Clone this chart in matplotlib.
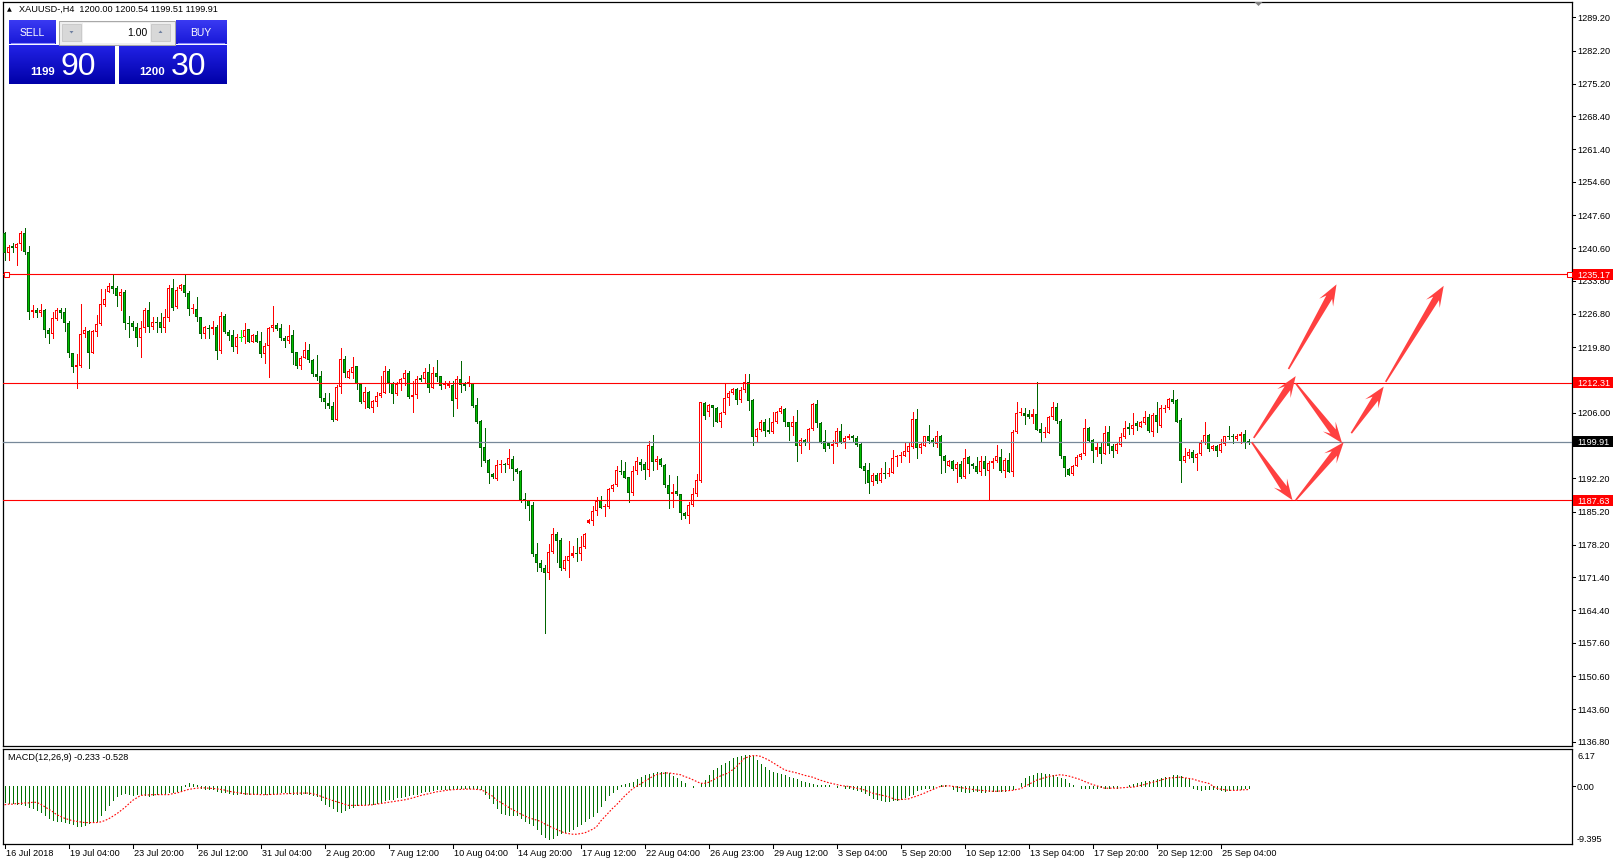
import numpy as np
import matplotlib
matplotlib.use("Agg")
import matplotlib.pyplot as plt
from matplotlib.patches import Rectangle, Polygon
from matplotlib.colors import LinearSegmentedColormap

W, H, DPI = 1613, 865, 100

# ---------------- data ----------------
opens = [
    1243.75, 1239.54, 1241.1, 1240.6, 1241.4, 1243.75, 1239.75, 1227.27, 1227.6, 1227.06,
    1227.6, 1223.4, 1222.5, 1225.7, 1227.6, 1227.1, 1224.8, 1218.5, 1215.56, 1215.84,
    1222.5, 1223.2, 1218.65, 1223.06, 1224.6, 1228.7, 1231.5, 1232.7, 1232.2, 1230.6,
    1231.3, 1224.96, 1224.96, 1224.0, 1221.7, 1223.9, 1227.6, 1224.1, 1225.1, 1225.0,
    1223.9, 1225.9, 1232.2, 1228.3, 1231.97, 1232.9, 1231.1, 1227.76, 1227.76, 1226.1,
    1222.5, 1223.9, 1223.56, 1224.0, 1219.07, 1226.36, 1223.0, 1222.36, 1219.9, 1222.0,
    1221.9, 1223.6, 1220.96, 1222.36, 1221.1, 1218.4, 1220.05, 1223.76, 1224.5, 1223.76,
    1221.8, 1221.1, 1222.3, 1218.7, 1215.9, 1217.6, 1219.3, 1217.2, 1214.1, 1213.7,
    1209.0, 1208.0, 1207.5, 1204.5, 1211.5, 1217.4, 1213.4, 1214.4, 1215.8, 1212.0,
    1208.3, 1210.4, 1207.1, 1208.3, 1209.5, 1210.2, 1214.8, 1212.2, 1209.9, 1212.0,
    1213.0, 1214.4, 1209.4, 1209.7, 1213.4, 1213.2, 1214.6, 1211.3, 1214.3, 1213.7,
    1211.8, 1211.7, 1211.8, 1208.8, 1213.2, 1212.0, 1212.0, 1212.2, 1207.6, 1204.3,
    1198.8, 1196.1, 1193.1, 1192.1, 1194.9, 1195.3, 1194.9, 1196.3, 1194.2, 1193.7,
    1187.8, 1187.6, 1186.6, 1176.2, 1174.3, 1173.4, 1172.3, 1176.6, 1180.4, 1179.2,
    1173.2, 1174.9, 1175.9, 1176.4, 1176.2, 1177.7, 1182.9, 1183.2, 1185.4, 1187.6,
    1186.2, 1186.2, 1189.9, 1190.9, 1193.8, 1193.8, 1192.4, 1189.2, 1193.7, 1195.7,
    1195.2, 1194.0, 1199.1, 1195.6, 1196.3, 1195.0, 1190.9, 1188.8, 1189.5, 1188.9,
    1184.9, 1184.3, 1186.6, 1188.9, 1191.6, 1208.1, 1206.2, 1207.6, 1207.1, 1204.1,
    1205.9, 1209.2, 1210.1, 1211.0, 1208.7, 1210.8, 1212.4, 1208.7, 1200.8, 1202.4,
    1204.0, 1202.4, 1202.0, 1204.0, 1206.1, 1206.8, 1204.0, 1203.1, 1204.0, 1198.9,
    1200.3, 1199.6, 1202.6, 1207.8, 1203.8, 1200.1, 1199.7, 1198.9, 1199.4, 1202.2,
    1199.8, 1200.6, 1201.0, 1200.6, 1199.4, 1194.8, 1193.9, 1191.5, 1192.9, 1191.6,
    1193.4, 1193.1, 1193.4, 1196.6, 1196.8, 1196.9, 1197.8, 1198.7, 1204.7, 1198.6,
    1199.1, 1201.0, 1200.3, 1199.4, 1201.1, 1196.9, 1194.8, 1195.9, 1194.1, 1195.2,
    1192.4, 1196.6, 1195.2, 1194.8, 1193.6, 1195.9, 1193.8, 1195.4, 1195.9, 1196.6,
    1193.8, 1196.1, 1193.6, 1202.0, 1205.9, 1205.9, 1205.7, 1205.2, 1205.7, 1202.6,
    1201.7, 1201.8, 1205.0, 1207.3, 1204.3, 1196.8, 1194.1, 1193.1, 1194.8, 1196.6,
    1197.3, 1202.7, 1200.3, 1198.2, 1198.7, 1197.3, 1201.9, 1199.0, 1198.0, 1199.2,
    1200.8, 1202.9, 1202.5, 1203.8, 1203.1, 1203.8, 1205.0, 1202.0, 1205.5, 1203.3,
    1206.8, 1206.9, 1208.9, 1208.7, 1204.5, 1195.9, 1196.8, 1197.7, 1196.5, 1197.3,
    1199.6, 1201.3, 1198.3, 1199.1, 1198.0, 1199.4, 1201.1, 1201.0, 1200.4, 1201.0,
    1201.5, 1200.00,
]
highs = [
    1244.1, 1241.3, 1241.65, 1241.65, 1244.3, 1244.8, 1241.1, 1228.7, 1227.97, 1228.8,
    1227.75, 1223.76, 1227.27, 1228.1, 1227.97, 1228.1, 1225.3, 1218.65, 1218.36, 1228.8,
    1224.0, 1223.4, 1223.4, 1226.6, 1232.0, 1232.0, 1233.2, 1235.1, 1232.7, 1231.97,
    1231.8, 1226.35, 1225.3, 1224.8, 1225.3, 1227.97, 1229.4, 1226.1, 1226.1, 1227.06,
    1227.8, 1232.9, 1234.2, 1232.4, 1233.1, 1235.1, 1231.6, 1228.8, 1230.3, 1226.2,
    1224.3, 1224.5, 1225.3, 1224.5, 1227.27, 1226.8, 1223.4, 1223.4, 1222.5, 1223.4,
    1224.96, 1223.6, 1222.6, 1223.3, 1223.06, 1220.6, 1224.1, 1228.5, 1224.8, 1224.6,
    1222.1, 1224.5, 1223.4, 1218.8, 1217.9, 1220.8, 1220.5, 1217.4, 1218.1, 1214.8,
    1210.1, 1210.1, 1208.3, 1211.8, 1219.7, 1217.9, 1215.2, 1217.7, 1215.9, 1212.3,
    1211.5, 1210.6, 1208.7, 1210.4, 1213.7, 1215.9, 1215.3, 1212.5, 1212.5, 1213.4,
    1215.0, 1214.8, 1212.7, 1213.7, 1213.9, 1215.5, 1216.25, 1215.7, 1217.1, 1213.8,
    1212.7, 1212.7, 1212.7, 1213.7, 1216.9, 1212.5, 1213.7, 1212.3, 1209.2, 1204.4,
    1202.7, 1196.2, 1193.4, 1196.1, 1196.1, 1195.5, 1198.4, 1196.8, 1194.4, 1193.9,
    1189.2, 1187.7, 1187.3, 1178.5, 1175.0, 1174.0, 1178.4, 1181.7, 1181.0, 1179.6,
    1175.9, 1179.0, 1178.0, 1179.6, 1180.1, 1180.8, 1183.6, 1186.4, 1188.3, 1188.5,
    1186.9, 1190.1, 1191.1, 1194.7, 1196.1, 1195.6, 1192.5, 1194.7, 1196.6, 1196.2,
    1195.6, 1200.1, 1201.3, 1196.8, 1196.4, 1195.2, 1192.9, 1191.0, 1192.7, 1189.0,
    1185.2, 1187.3, 1190.1, 1193.1, 1208.2, 1208.3, 1207.8, 1207.6, 1207.3, 1206.1,
    1212.2, 1210.6, 1211.3, 1211.3, 1211.5, 1214.2, 1214.2, 1208.8, 1202.7, 1204.5,
    1204.7, 1204.8, 1206.2, 1206.4, 1207.4, 1207.1, 1204.1, 1205.3, 1206.6, 1200.6,
    1200.5, 1202.7, 1208.0, 1208.7, 1204.1, 1202.4, 1199.9, 1200.3, 1202.7, 1203.6,
    1201.1, 1201.5, 1201.3, 1201.1, 1199.6, 1195.4, 1195.4, 1193.3, 1193.3, 1194.3,
    1195.6, 1194.3, 1198.2, 1197.1, 1197.8, 1199.8, 1199.8, 1206.2, 1206.8, 1199.8,
    1201.2, 1203.4, 1200.6, 1202.2, 1201.3, 1197.1, 1196.1, 1196.1, 1195.6, 1195.9,
    1198.4, 1196.8, 1195.4, 1196.6, 1196.9, 1196.8, 1195.9, 1196.4, 1199.2, 1198.3,
    1196.4, 1197.6, 1202.4, 1208.2, 1206.9, 1207.1, 1206.6, 1206.8, 1212.4, 1203.8,
    1203.1, 1205.3, 1208.3, 1208.0, 1204.6, 1196.9, 1194.3, 1195.0, 1197.1, 1197.5,
    1204.6, 1203.1, 1200.4, 1199.9, 1199.7, 1203.2, 1203.2, 1199.4, 1199.6, 1201.8,
    1204.3, 1203.8, 1206.0, 1204.3, 1204.3, 1206.4, 1205.7, 1205.9, 1208.3, 1207.6,
    1207.6, 1209.2, 1210.8, 1208.8, 1204.8, 1198.5, 1198.3, 1198.2, 1197.5, 1200.3,
    1204.1, 1201.5, 1199.2, 1199.2, 1200.4, 1201.1, 1203.2, 1201.5, 1201.5, 1202.0,
    1202.4, 1200.54,
]
lows = [
    1238.1, 1238.1, 1239.9, 1237.1, 1240.25, 1239.5, 1225.66, 1226.2, 1226.2, 1226.35,
    1222.0, 1220.75, 1221.8, 1225.5, 1225.87, 1223.3, 1217.8, 1214.65, 1211.3, 1215.7,
    1222.0, 1215.35, 1218.5, 1222.15, 1224.5, 1228.5, 1231.3, 1231.1, 1228.5, 1227.6,
    1223.6, 1222.0, 1223.4, 1220.1, 1217.8, 1222.9, 1222.9, 1223.6, 1223.06, 1223.06,
    1223.06, 1225.2, 1227.6, 1228.1, 1231.8, 1230.6, 1226.6, 1226.9, 1225.4, 1221.8,
    1221.8, 1221.8, 1222.5, 1217.25, 1218.5, 1222.7, 1221.3, 1218.9, 1218.65, 1221.0,
    1220.75, 1220.96, 1220.8, 1220.8, 1217.8, 1216.4, 1213.6, 1223.3, 1223.4, 1221.3,
    1219.8, 1220.6, 1216.3, 1215.5, 1215.2, 1217.5, 1216.7, 1213.7, 1212.9, 1208.5,
    1206.9, 1206.9, 1204.3, 1204.4, 1210.1, 1213.6, 1213.4, 1213.4, 1210.9, 1208.0,
    1207.1, 1207.1, 1206.1, 1207.5, 1209.4, 1210.1, 1210.4, 1208.0, 1209.7, 1210.8,
    1211.9, 1209.2, 1206.2, 1209.0, 1212.7, 1212.2, 1210.4, 1211.1, 1212.7, 1211.0,
    1211.1, 1211.5, 1205.3, 1207.1, 1210.4, 1210.8, 1211.7, 1207.3, 1203.9, 1194.7,
    1195.7, 1191.3, 1192.2, 1191.8, 1193.6, 1193.6, 1194.3, 1191.8, 1193.3, 1187.3,
    1186.0, 1183.4, 1175.9, 1172.8, 1172.8, 1159.7, 1171.0, 1176.4, 1174.5, 1172.9,
    1172.9, 1171.5, 1175.7, 1174.7, 1175.0, 1177.5, 1182.7, 1182.4, 1184.5, 1185.9,
    1184.3, 1185.9, 1189.5, 1190.6, 1193.2, 1192.3, 1187.3, 1188.7, 1193.2, 1193.9,
    1192.1, 1192.7, 1193.9, 1194.1, 1194.7, 1190.4, 1185.9, 1186.2, 1188.7, 1183.6,
    1183.8, 1182.9, 1186.4, 1188.5, 1191.5, 1204.7, 1205.3, 1203.3, 1204.0, 1202.9,
    1205.7, 1207.6, 1209.9, 1207.8, 1208.2, 1210.3, 1206.6, 1199.3, 1199.8, 1202.2,
    1201.0, 1201.7, 1201.8, 1203.8, 1205.9, 1203.3, 1200.3, 1201.3, 1195.9, 1197.5,
    1199.2, 1198.4, 1202.4, 1203.1, 1199.6, 1198.0, 1198.5, 1195.4, 1199.1, 1199.6,
    1198.5, 1200.5, 1199.8, 1198.9, 1194.3, 1191.3, 1189.2, 1190.9, 1191.3, 1191.5,
    1192.3, 1192.6, 1193.3, 1194.8, 1195.7, 1196.8, 1195.6, 1198.5, 1196.4, 1197.5,
    1198.9, 1199.6, 1198.9, 1198.7, 1193.3, 1193.5, 1194.7, 1194.0, 1191.4, 1192.2,
    1192.2, 1193.3, 1194.4, 1193.3, 1192.9, 1193.0, 1187.63, 1194.3, 1195.7, 1193.6,
    1192.4, 1193.5, 1192.6, 1201.8, 1205.5, 1203.6, 1204.8, 1203.8, 1202.4, 1199.9,
    1200.8, 1201.7, 1204.6, 1203.9, 1196.4, 1192.6, 1192.8, 1192.9, 1194.7, 1196.2,
    1197.1, 1199.9, 1195.7, 1196.8, 1195.5, 1197.3, 1197.6, 1196.6, 1197.5, 1199.0,
    1200.6, 1201.5, 1201.5, 1202.4, 1202.9, 1203.6, 1202.0, 1201.1, 1202.0, 1203.1,
    1206.2, 1206.7, 1208.0, 1204.0, 1191.5, 1195.7, 1196.5, 1195.7, 1193.9, 1197.1,
    1199.4, 1198.0, 1198.2, 1196.8, 1197.8, 1199.2, 1200.4, 1199.7, 1200.3, 1199.6,
    1198.5, 1199.51,
]
closes = [
    1239.54, 1240.95, 1240.6, 1241.4, 1243.75, 1239.9, 1227.27, 1227.6, 1226.9, 1227.6,
    1223.4, 1222.5, 1225.87, 1227.7, 1227.06, 1224.8, 1218.5, 1215.7, 1216.05, 1222.57,
    1223.4, 1218.65, 1223.2, 1224.6, 1228.8, 1229.9, 1232.7, 1232.0, 1230.6, 1231.3,
    1224.8, 1224.7, 1223.97, 1221.7, 1223.9, 1227.6, 1224.1, 1225.0, 1224.96, 1223.9,
    1226.1, 1232.2, 1228.1, 1231.8, 1232.9, 1231.1, 1227.76, 1227.9, 1226.1, 1222.5,
    1224.0, 1223.66, 1224.1, 1219.07, 1226.36, 1222.9, 1222.2, 1219.9, 1222.0, 1222.0,
    1223.4, 1220.96, 1222.36, 1220.96, 1218.4, 1220.05, 1223.9, 1224.5, 1223.6, 1221.7,
    1221.1, 1222.15, 1218.65, 1215.9, 1217.6, 1219.3, 1217.2, 1214.1, 1213.6, 1209.0,
    1208.2, 1207.5, 1204.5, 1211.5, 1217.4, 1214.4, 1214.8, 1215.7, 1212.0, 1208.3,
    1210.4, 1207.1, 1208.5, 1209.5, 1210.2, 1214.8, 1212.2, 1209.9, 1212.0, 1213.0,
    1214.3, 1209.4, 1209.7, 1213.2, 1212.9, 1214.6, 1211.3, 1214.4, 1213.6, 1211.7,
    1212.2, 1212.0, 1208.5, 1213.2, 1211.8, 1211.7, 1212.4, 1207.5, 1204.1, 1198.5,
    1195.9, 1193.3, 1192.5, 1194.9, 1195.2, 1194.9, 1196.4, 1194.1, 1193.6, 1187.6,
    1187.4, 1186.4, 1176.2, 1174.3, 1173.4, 1172.3, 1176.6, 1180.4, 1179.1, 1173.3,
    1175.0, 1175.9, 1176.4, 1176.2, 1177.7, 1180.5, 1183.4, 1185.4, 1187.5, 1186.0,
    1186.4, 1189.9, 1190.9, 1193.9, 1193.5, 1192.3, 1189.2, 1193.7, 1195.8, 1195.1,
    1194.0, 1199.2, 1195.6, 1196.3, 1195.0, 1190.9, 1188.8, 1189.4, 1188.9, 1185.0,
    1184.3, 1186.6, 1188.9, 1191.8, 1208.2, 1205.4, 1207.6, 1206.9, 1204.1, 1205.9,
    1209.2, 1210.1, 1211.0, 1208.7, 1210.8, 1212.4, 1208.5, 1200.8, 1202.6, 1204.0,
    1202.2, 1202.0, 1204.0, 1206.1, 1206.9, 1204.0, 1203.1, 1204.0, 1198.9, 1200.3,
    1199.6, 1202.6, 1207.8, 1203.8, 1199.9, 1198.3, 1198.9, 1199.4, 1202.2, 1199.8,
    1200.6, 1201.2, 1200.6, 1199.2, 1194.4, 1193.8, 1191.3, 1192.9, 1191.6, 1193.3,
    1193.1, 1193.4, 1196.4, 1197.0, 1197.0, 1197.9, 1198.9, 1204.7, 1198.6, 1199.4,
    1201.0, 1200.1, 1199.6, 1201.1, 1196.8, 1195.9, 1195.9, 1194.1, 1195.2, 1192.4,
    1196.4, 1195.2, 1194.7, 1193.6, 1195.9, 1194.1, 1195.5, 1195.85, 1196.8, 1193.8,
    1196.1, 1193.6, 1202.0, 1205.9, 1206.0, 1205.4, 1205.2, 1205.7, 1202.4, 1201.7,
    1202.0, 1205.0, 1207.3, 1204.3, 1196.8, 1194.3, 1193.0, 1194.8, 1196.6, 1197.3,
    1202.7, 1200.1, 1198.0, 1198.7, 1197.3, 1201.8, 1198.9, 1198.0, 1199.4, 1200.8,
    1202.7, 1202.5, 1203.4, 1203.2, 1204.0, 1205.0, 1202.2, 1205.5, 1204.0, 1206.9,
    1207.1, 1208.8, 1208.3, 1204.1, 1195.9, 1196.9, 1197.8, 1196.5, 1197.3, 1199.7,
    1201.3, 1198.3, 1199.1, 1198.0, 1199.4, 1201.0, 1200.8, 1200.8, 1201.0, 1201.5,
    1199.7, 1199.91,
]

# MACD(12,26,9): main line (histogram) and signal line, one value per bar
macd_main = [
    -2.6, -2.7, -2.7, -2.8, -2.8, -3.0, -3.3, -3.6, -3.9, -4.1, -4.6, -5.1, -5.5, -5.6, -5.7, -5.8,
    -6.0, -6.2, -6.4, -6.5, -6.3, -6.0, -5.8, -5.6, -4.6, -3.8, -3.0, -2.2, -1.6, -1.3, -1.1, -1.3,
    -1.4, -1.3, -1.2, -1.4, -1.5, -1.4, -1.3, -1.2, -1.1, -1.0, -0.9, -0.7, -0.6, 0.3, 0.5, 0.4,
    0.2, -0.3, -0.4, -0.5, -0.5, -0.7, -0.9, -1.0, -1.1, -1.2, -1.2, -1.1, -1.2, -1.3, -1.3, -1.2,
    -1.1, -1.2, -1.3, -1.2, -1.1, -1.0, -1.0, -1.1, -1.2, -1.3, -1.2, -1.1, -1.2, -1.4, -1.6, -2.2,
    -2.8, -3.2, -3.6, -4.0, -4.1, -3.8, -3.5, -3.3, -3.1, -3.0, -2.9, -2.8, -2.8, -2.7, -2.5, -2.3,
    -2.1, -2.0, -1.8, -1.7, -1.5, -1.4, -1.3, -1.2, -1.0, -0.8, -0.7, -0.6, -0.5, -0.5, -0.4, -0.4,
    -0.3, -0.3, -0.3, -0.2, -0.2, -0.3, -0.3, -0.5, -1.2, -1.9, -2.7, -3.6, -4.3, -4.5, -4.6, -4.7,
    -4.7, -5.2, -5.6, -5.9, -6.3, -7.0, -7.8, -8.3, -8.5, -8.4, -8.0, -7.6, -7.4, -7.2, -7.0, -6.5,
    -6.1, -5.6, -5.2, -4.8, -4.2, -3.2, -2.2, -1.4, -0.9, -0.5, 0.2, 0.4, 0.5, 0.7, 1.2, 1.5,
    1.8, 2.0, 2.2, 2.3, 2.4, 2.3, 2.2, 1.7, 1.3, 0.9, 0.6, 0.1, -0.1, 0.0, 0.6, 1.1,
    1.8, 2.6, 3.0, 3.4, 3.8, 4.2, 4.6, 4.8, 5.0, 5.1, 5.1, 4.9, 4.3, 3.7, 3.1, 2.6,
    2.4, 2.2, 2.0, 1.8, 1.6, 1.4, 1.2, 0.9, 0.7, 0.5, 0.4, 0.3, 0.3, 0.2, 0.2, 0.0,
    -0.1, 0.0, -0.2, -0.3, -0.4, -0.6, -0.8, -1.1, -1.4, -1.9, -2.1, -2.3, -2.4, -2.4, -2.3, -2.2,
    -2.0, -1.7, -1.4, -1.2, -0.6, -0.4, -0.3, -0.3, -0.2, 0.1, 0.2, 0.2, 0.1, -0.5, -0.7, -0.8,
    -0.9, -0.9, -0.8, -0.8, -0.9, -0.9, -0.8, -0.7, -0.8, -0.8, -0.7, -0.6, -0.4, 0.1, 0.6, 1.3,
    1.7, 1.9, 2.1, 2.2, 2.0, 2.0, 1.9, 1.6, 1.4, 1.2, 0.6, 0.2, 0.0, -0.2, -0.3, -0.3,
    -0.2, -0.2, -0.1, -0.2, -0.2, -0.1, -0.2, 0.0, 0.1, 0.2, 0.4, 0.5, 0.7, 0.8, 0.9, 1.1,
    1.2, 1.4, 1.5, 1.6, 1.8, 1.9, 1.7, 1.4, 1.2, -0.3, -0.5, -0.6, -0.5, -0.5, -0.4, -0.5,
    -0.6, -0.7, -0.6, -0.5, -0.4, -0.4, -0.3, -0.233,
]
macd_signal = [
    -3.0, -2.9, -2.9, -2.8, -2.8, -2.7, -2.7, -2.6, -2.6, -2.9, -3.3, -3.7, -4.1, -4.6, -4.9, -5.2,
    -5.4, -5.6, -5.7, -5.8, -5.9, -5.9, -5.9, -5.9, -5.8, -5.6, -5.3, -4.9, -4.5, -4.0, -3.5, -2.9,
    -2.3, -1.9, -1.5, -1.4, -1.4, -1.35, -1.35, -1.35, -1.35, -1.35, -1.2, -1.1, -0.9, -0.7, -0.5, -0.4,
    -0.3, -0.25, -0.25, -0.3, -0.35, -0.4, -0.5, -0.6, -0.8, -0.9, -1.0, -1.1, -1.2, -1.25, -1.3, -1.3,
    -1.35, -1.35, -1.35, -1.3, -1.3, -1.25, -1.2, -1.2, -1.15, -1.1, -1.1, -1.1, -1.1, -1.2, -1.35, -1.6,
    -1.85, -2.05, -2.3, -2.5, -2.7, -2.9, -3.1, -3.1, -3.1, -3.1, -3.1, -3.05, -3.0, -2.9, -2.8, -2.7,
    -2.6, -2.5, -2.4, -2.3, -2.2, -2.05, -1.9, -1.7, -1.5, -1.35, -1.2, -1.05, -0.9, -0.8, -0.7, -0.6,
    -0.55, -0.5, -0.5, -0.45, -0.45, -0.45, -0.5, -0.55, -0.8, -1.2, -1.6, -2.2, -2.6, -3.0, -3.4, -3.8,
    -4.1, -4.5, -4.8, -5.1, -5.3, -5.5, -5.7, -6.1, -6.4, -6.75, -7.0, -7.3, -7.6, -7.7, -7.8, -7.8,
    -7.7, -7.6, -7.3, -7.0, -6.6, -5.7, -5.0, -4.3, -3.6, -3.0, -2.3, -1.6, -1.0, -0.4, 0.0, 0.4,
    0.8, 1.2, 1.6, 1.9, 2.05, 2.15, 2.2, 2.1, 2.0, 1.9, 1.6, 1.4, 1.1, 0.8, 0.5, 0.5,
    0.65, 1.0, 1.35, 1.7, 1.95, 2.2, 2.7, 3.2, 3.9, 4.6, 4.8, 5.0, 5.0, 4.9, 4.6, 4.3,
    3.9, 3.5, 3.1, 2.7, 2.5, 2.35, 2.2, 2.0, 1.8, 1.65, 1.5, 1.25, 1.0, 0.8, 0.6, 0.45,
    0.3, 0.15, 0.05, 0.0, -0.15, -0.3, -0.4, -0.6, -0.85, -1.1, -1.25, -1.4, -1.55, -1.7, -1.95, -2.2,
    -2.15, -2.1, -2.05, -1.8, -1.6, -1.35, -1.1, -0.8, -0.55, -0.25, 0.0, 0.05, 0.1, 0.0, -0.1, -0.2,
    -0.3, -0.4, -0.5, -0.6, -0.65, -0.7, -0.75, -0.8, -0.8, -0.75, -0.7, -0.7, -0.65, -0.5, -0.4, -0.05,
    0.3, 0.65, 1.0, 1.2, 1.4, 1.6, 1.7, 1.8, 1.9, 1.8, 1.7, 1.5, 1.3, 1.1, 0.8, 0.55,
    0.3, 0.1, -0.1, -0.3, -0.3, -0.3, -0.3, -0.25, -0.2, -0.15, -0.15, 0.0, 0.15, 0.3, 0.5, 0.65,
    0.8, 1.0, 1.2, 1.35, 1.4, 1.45, 1.5, 1.4, 1.3, 1.2, 1.0, 0.8, 0.65, 0.5, 0.1, -0.3,
    -0.45, -0.55, -0.65, -0.65, -0.65, -0.6, -0.55, -0.528,
]

date_labels = ["16 Jul 2018", "19 Jul 04:00", "23 Jul 20:00", "26 Jul 12:00", "31 Jul 04:00",
               "2 Aug 20:00", "7 Aug 12:00", "10 Aug 04:00", "14 Aug 20:00", "17 Aug 12:00",
               "22 Aug 04:00", "26 Aug 23:00", "29 Aug 12:00", "3 Sep 04:00", "5 Sep 20:00",
               "10 Sep 12:00", "13 Sep 04:00", "17 Sep 20:00", "20 Sep 12:00", "25 Sep 04:00"]
bars_per_label = 16

price_ticks = [1289.20, 1282.20, 1275.20, 1268.40, 1261.40, 1254.60, 1247.60, 1240.60,
               1233.80, 1226.80, 1219.80, 1206.00, 1192.20, 1185.20,
               1178.20, 1171.40, 1164.40, 1157.60, 1150.60, 1143.60, 1136.80]
red_levels = [1235.17, 1212.31, 1187.63]
bid_price = 1199.91
price_range = (1135.88, 1292.42)
macd_range = (-9.395, 6.17)
macd_now = (-0.233, -0.528)

symbol = "XAUUSD-,H4"
last_ohlc = [1200.00, 1200.54, 1199.51, 1199.91]
sell_big, sell_small = "90", "1199"
buy_big, buy_small = "30", "1200"
lot_size = "1.00"

# hand-drawn arrows (bar index, price): tail -> head
arrow_tails = [(312.3, 1200.7), (311.8, 1199.8), (321.0, 1215.2), (322.8, 1212.2),
               (322.8, 1187.6), (336.7, 1201.7), (345.3, 1212.5)]
arrow_heads = [(322.8, 1213.7), (322.0, 1187.6), (333.0, 1233.0), (334.4, 1199.6),
               (334.8, 1199.8), (344.8, 1211.5), (359.8, 1232.7)]

# ---------------- figure ----------------
plt.rcParams['font.family'] = ['Liberation Sans', 'DejaVu Sans']
fig = plt.figure(figsize=(W / DPI, H / DPI), dpi=DPI, facecolor='white')


def rect_px(x0, y0, x1, y1):
    return [x0 / W, 1 - y1 / H, (x1 - x0) / W, (y1 - y0) / H]


ax = fig.add_axes(rect_px(3, 2, 1572, 746))
mx = fig.add_axes(rect_px(3, 748.5, 1572, 844))
for a in (ax, mx):
    a.set_xticks([])
    a.set_yticks([])
    for s in a.spines.values():
        s.set_linewidth(0.9)
        s.set_color('black')
    # bar centres land on half pixels -> crisp 1px wicks
    a.set_xlim(-0.375, 391.875)
ax.set_ylim(*price_range)
mx.set_ylim(*macd_range)
PX = (price_range[1] - price_range[0]) / 744.0   # one pixel in price units

# candles
o = np.array(opens)
c = np.array(closes)
h = np.maximum(np.array(highs), np.maximum(o, c))
l = np.minimum(np.array(lows), np.minimum(o, c))
x = np.arange(len(c))

BULL = '#ff0000'
BEAR_EDGE = '#006400'
BEAR_FILL = '#00c000'
DOJI = '#00ff00'
up = c > o
dn = c < o
dj = c == o
wick_cols = np.where(up, BULL, np.where(dn, BEAR_EDGE, DOJI))
ax.vlines(x, l, h, colors=wick_cols, lw=0.72, zorder=2, antialiased=False)

body_lo = np.minimum(o, c)
body_h = np.maximum(np.abs(c - o), PX)
edge_cols = np.where(up, BULL, BEAR_EDGE)
fill_cols = np.where(up, 'white', BEAR_FILL)
ax.bar(x[~dj], body_h[~dj], bottom=body_lo[~dj], width=0.75, color=edge_cols[~dj],
       linewidth=0, zorder=3, antialiased=False)
inner = (~dj) & (body_h > 2.5 * PX)
ax.bar(x[inner], body_h[inner] - 2 * PX, bottom=body_lo[inner] + PX, width=0.25,
       color=fill_cols[inner], linewidth=0, zorder=4, antialiased=False)
ax.hlines(o[dj], x[dj] - 0.375, x[dj] + 0.375, color=DOJI, lw=0.72, zorder=4,
          antialiased=False)

# horizontal levels
for lv in red_levels:
    ax.axhline(lv, color='red', lw=0.8, zorder=5)
ax.axhline(bid_price, color='#778899', lw=0.9, zorder=5)
xl = ax.get_xlim()
ax.plot([xl[0] + 0.85, xl[1] - 0.85], [red_levels[0]] * 2, ls='none', marker='s', ms=3.6,
        mfc='white', mec='red', mew=0.75, zorder=6)

# MACD
mx.vlines(x, 0, macd_main, colors='#007000', lw=0.72, antialiased=False)
mx.plot(x, macd_signal, color='red', lw=0.8, ls=(0, (1.5, 1.5)))

# ---------------- overlay in pixel coordinates ----------------
ov = fig.add_axes([0, 0, 1, 1], zorder=10)
ov.patch.set_alpha(0)
ov.axis('off')


def py(axis, val):
    return H - axis.transData.transform((0, val))[1]


def pxx(axis, bar):
    return axis.transData.transform((bar, 0))[0]


FS = 6.6
for p in price_ticks:
    y = py(ax, p)
    ov.plot([1572, 1575], [y, y], color='black', lw=0.75)
    ov.text(1577, y, f"{p:.2f}", fontsize=FS, va='center_baseline', ha='left')


def value_box(y, txt, bg):
    ov.add_patch(Rectangle((1573, y - 5.5), 40, 11, facecolor=bg, edgecolor='none', zorder=5))
    ov.text(1577, y, txt, color='white', fontsize=FS, va='center_baseline', ha='left', zorder=6)


for lv in red_levels:
    value_box(py(ax, lv), f"{lv:.2f}", 'red')
value_box(py(ax, bid_price), f"{bid_price:.2f}", 'black')

# MACD scale
y0 = py(mx, 0)
ov.plot([1572, 1575], [y0, y0], color='black', lw=0.75)
ov.text(1577, y0, "0.00", fontsize=FS, va='center_baseline', ha='left')
ov.text(1577, py(mx, macd_range[1]) + 7, f"{macd_range[1]:.2f}", fontsize=FS,
        va='center_baseline', ha='left')
ov.text(1577, py(mx, macd_range[0]) - 6, f"{macd_range[0]:.3f}", fontsize=FS,
        va='center_baseline', ha='left')

# date axis
for k, lab in enumerate(date_labels):
    xx = pxx(mx, k * bars_per_label)
    ov.plot([xx, xx], [844, 848], color='black', lw=0.75)
    ov.text(xx + 2, 856, lab, fontsize=FS, va='baseline', ha='left')

# headers
ov.text(7, 11.5, "\u25b2", fontsize=4.5, va='baseline', ha='left', family='DejaVu Sans')
ov.text(19, 12.3, symbol + "  " + " ".join(f"{v:.2f}" for v in last_ohlc),
        fontsize=FS, va='baseline', ha='left')
ov.text(8, 760, "MACD(12,26,9) {:.3f} {:.3f}".format(*macd_now), fontsize=FS,
        va='baseline', ha='left')

# chart shift marker
sx = pxx(ax, len(c) + 1.5)
ov.add_patch(Polygon([[sx - 4, 2], [sx + 4, 2], [sx, 6]], closed=True,
                     facecolor='#808080', edgecolor='none'))


# arrows
def tapered_arrow(tail, head):
    t = ax.transData.transform(tail)
    hd = ax.transData.transform(head)
    t = np.array([t[0], H - t[1]])
    hd = np.array([hd[0], H - hd[1]])
    d = hd - t
    L = np.hypot(*d)
    u = d / L
    n = np.array([-u[1], u[0]])
    hl = min(21.0, L * 0.42)
    base = hd - u * hl
    notch = hd - u * hl * 0.70
    pts = [t + n * 0.8, notch + n * 3.4, base + n * 8.0, hd,
           base - n * 8.0, notch - n * 3.4, t - n * 0.8]
    ov.add_patch(Polygon(pts, closed=True, facecolor='#ff4040', edgecolor='none', zorder=4))


for tl, hd in zip(arrow_tails, arrow_heads):
    tapered_arrow(tl, hd)


# one-click trading panel
def grad_box(x0, y0, x1, y1, top, bottom):
    cmap = LinearSegmentedColormap.from_list('g', [top, bottom])
    ov.imshow(np.linspace(0, 1, 64).reshape(-1, 1), cmap=cmap, extent=(x0, x1, y1, y0),
              aspect='auto', zorder=7, interpolation='bilinear')


grad_box(9, 21, 56, 44.5, '#3a3af2', '#1818d8')
grad_box(175.5, 21, 226, 44.5, '#3a3af2', '#1818d8')
grad_box(9, 45.7, 115, 84, '#2222e6', '#0000a8')
grad_box(118.5, 45.7, 226, 84, '#2222e6', '#0000a8')
ov.plot([11, 54], [43.2, 43.2], color='#8a8aff', lw=0.8, zorder=8)
ov.plot([178, 224], [43.2, 43.2], color='#8a8aff', lw=0.8, zorder=8)
ov.add_patch(Rectangle((58.5, 21), 116, 23.5, facecolor='#efefef', edgecolor='#a8a8a8',
                       lw=0.75, zorder=7))
ov.add_patch(Rectangle((62, 24), 19, 17, facecolor='#d8d8d8', edgecolor='#c0c0c0', lw=0.5, zorder=8))
ov.add_patch(Rectangle((151, 24), 19, 17, facecolor='#d8d8d8', edgecolor='#c0c0c0', lw=0.5, zorder=8))
ov.add_patch(Rectangle((82.5, 23), 67.5, 20, facecolor='white', edgecolor='none', zorder=8))
ov.add_patch(Polygon([[69.5, 31], [73.5, 31], [71.5, 33.5]], closed=True,
                     facecolor='#7080a0', edgecolor='none', zorder=9))
ov.add_patch(Polygon([[158.5, 33], [162.5, 33], [160.5, 30.5]], closed=True,
                     facecolor='#7080a0', edgecolor='none', zorder=9))
ov.text(32.5, 36, "SELL", color='white', fontsize=7.5, ha='center', va='baseline', zorder=9)
ov.text(200.5, 36, "BUY", color='white', fontsize=7.5, ha='center', va='baseline', zorder=9)
ov.text(147, 36, lot_size, color='black', fontsize=7.5, ha='right', va='baseline', zorder=9)
ov.text(30.5, 75, sell_small, color='white', fontsize=8.2, fontweight='bold', ha='left',
        va='baseline', zorder=9)
ov.text(61, 75, sell_big, color='white', fontsize=23, ha='left', va='baseline', zorder=9)
ov.text(139.5, 75, buy_small, color='white', fontsize=8.2, fontweight='bold', ha='left',
        va='baseline', zorder=9)
ov.text(171, 75, buy_big, color='white', fontsize=23, ha='left', va='baseline', zorder=9)

ov.set_xlim(0, W)
ov.set_ylim(H, 0)

fig.savefig("out.png", dpi=DPI, facecolor='white')
